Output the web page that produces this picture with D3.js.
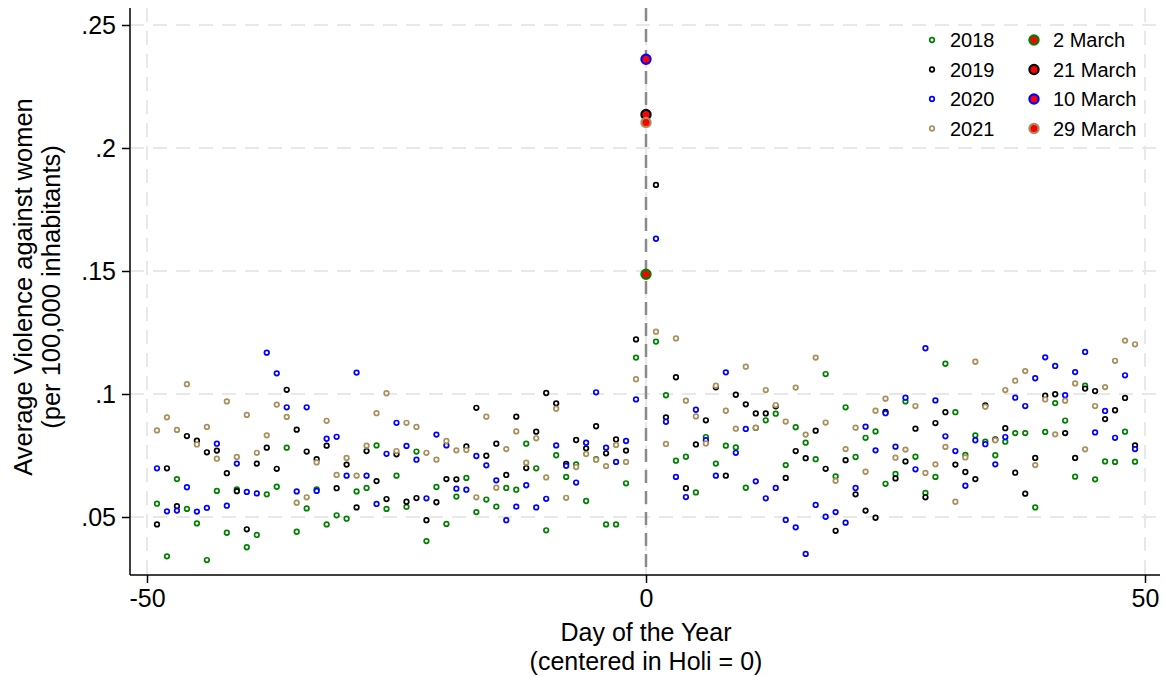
<!DOCTYPE html>
<html>
<head>
<meta charset="utf-8">
<script src="https://cdn.jsdelivr.net/npm/d3@7"></script>
<style>
  body { margin: 0; background: #fff; }
  text { font-family: "Liberation Sans", Arial, sans-serif; fill: #000; }
</style>
</head>
<body>
<script>
// Days relative to Holi (day 0 is drawn as the big marker)
var days = d3.range(-49, 50);

// Series values, day -49 .. 49
var v2018 = [
  0.0554, 0.0340, 0.0654, 0.0533, 0.0474, 0.0325, 0.0606, 0.0436, 0.0612, 0.0377, // -49..-40
  0.0427, 0.0592, 0.0623, 0.0782, 0.0440, 0.0535, 0.0612, 0.0470, 0.0507, 0.0493, // -39..-30
  0.0604, 0.0618, 0.0791, 0.0533, 0.0668, 0.0541, 0.0766, 0.0402, 0.0622, 0.0472, // -29..-20
  0.0583, 0.0659, 0.0520, 0.0571, 0.0542, 0.0618, 0.0611, 0.0798, 0.0698, 0.0446, // -19..-10
  0.0751, 0.0663, 0.0714, 0.0565, 0.0735, 0.0470, 0.0470, 0.0637, 0.1148,         // -9..-1
  0.1487,                                                                         // 0
  0.1213, 0.0995, 0.0729, 0.0745, 0.0600, 0.0825, 0.0717, 0.0790, 0.0783, 0.0619, // 1..10
  0.0862, 0.0893, 0.0920, 0.0711, 0.0865, 0.0802, 0.0735, 0.1081, 0.0665, 0.0946, // 11..20
  0.0744, 0.0822, 0.0848, 0.0635, 0.0675, 0.0970, 0.0745, 0.0598, 0.0663, 0.1123, // 21..30
  0.0926, 0.0752, 0.0832, 0.0806, 0.0751, 0.0806, 0.0841, 0.0841, 0.0539, 0.0846, // 31..40
  0.0963, 0.0892, 0.0664, 0.1034, 0.0653, 0.0726, 0.0724, 0.0847, 0.0725          // 41..49
];
var v2019 = [
  0.0470, 0.0698, 0.0544, 0.0829, 0.0810, 0.0763, 0.0770, 0.0678, 0.0605, 0.0450,
  0.0717, 0.0782, 0.0696, 0.1017, 0.0855, 0.0766, 0.0735, 0.0790, 0.0617, 0.0713,
  0.0539, 0.0768, 0.0646, 0.0573, 0.0755, 0.0562, 0.0577, 0.0487, 0.0560, 0.0654,
  0.0653, 0.0787, 0.0944, 0.0749, 0.0798, 0.0671, 0.0908, 0.0699, 0.0847, 0.1004,
  0.0962, 0.0716, 0.0813, 0.0779, 0.0869, 0.0759, 0.0815, 0.0770, 0.1222,
  0.2136,
  0.1850, 0.0905, 0.1068, 0.0617, 0.0795, 0.0893, 0.1027, 0.0668, 0.0997, 0.0958,
  0.0921, 0.0921, 0.0950, 0.0659, 0.0768, 0.0739, 0.0851, 0.0696, 0.0444, 0.0731,
  0.0592, 0.0526, 0.0497, 0.0927, 0.0657, 0.0726, 0.0859, 0.0580, 0.0882, 0.0926,
  0.0713, 0.0683, 0.0654, 0.0954, 0.0815, 0.0861, 0.0680, 0.0595, 0.0740, 0.0993,
  0.0999, 0.0841, 0.0740, 0.1022, 0.1012, 0.0898, 0.0934, 0.0984, 0.0791
];
var v2020 = [
  0.0698, 0.0523, 0.0526, 0.0621, 0.0522, 0.0537, 0.0798, 0.0546, 0.0717, 0.0602,
  0.0596, 0.1168, 0.1084, 0.0946, 0.0604, 0.0946, 0.0606, 0.0818, 0.0826, 0.0668,
  0.1087, 0.0668, 0.0553, 0.0757, 0.0883, 0.0789, 0.0733, 0.0576, 0.0835, 0.0791,
  0.0615, 0.0611, 0.0748, 0.0710, 0.0649, 0.0487, 0.0542, 0.0629, 0.0539, 0.0574,
  0.0791, 0.0708, 0.0640, 0.0802, 0.1007, 0.0782, 0.0724, 0.0809, 0.0978,
  0.2361,
  0.1631, 0.0887, 0.0663, 0.0581, 0.0936, 0.0812, 0.0668, 0.1088, 0.0761, 0.0858,
  0.0645, 0.0576, 0.0618, 0.0488, 0.0458, 0.0350, 0.0549, 0.0501, 0.0520, 0.0477,
  0.0618, 0.0867, 0.0771, 0.0922, 0.0786, 0.0985, 0.0694, 0.1186, 0.0974, 0.0828,
  0.0768, 0.0627, 0.0812, 0.0796, 0.0714, 0.0825, 0.0985, 0.0951, 0.1064, 0.1149,
  0.1114, 0.0995, 0.1089, 0.1171, 0.0844, 0.0931, 0.0822, 0.1076, 0.0776
];
var v2021 = [
  0.0852, 0.0905, 0.0854, 0.1040, 0.0795, 0.0866, 0.0737, 0.0970, 0.0744, 0.0915,
  0.0761, 0.0832, 0.0957, 0.0907, 0.0558, 0.0580, 0.0722, 0.0891, 0.0671, 0.0740,
  0.0668, 0.0790, 0.0922, 0.1003, 0.0768, 0.0883, 0.0866, 0.0761, 0.0733, 0.0809,
  0.0771, 0.0772, 0.0580, 0.0908, 0.0619, 0.0776, 0.0848, 0.0721, 0.0820, 0.0661,
  0.0940, 0.0578, 0.0703, 0.0756, 0.0733, 0.0707, 0.0793, 0.0724, 0.1060,
  0.2104,
  0.1253, 0.0797, 0.1226, 0.0973, 0.0909, 0.0799, 0.1034, 0.0932, 0.0859, 0.1111,
  0.0863, 0.1016, 0.0955, 0.0888, 0.1026, 0.0835, 0.1148, 0.0884, 0.0647, 0.0776,
  0.0863, 0.0684, 0.0932, 0.0981, 0.0741, 0.0774, 0.0951, 0.0679, 0.0714, 0.0785,
  0.0562, 0.0742, 0.1131, 0.0948, 0.0812, 0.1016, 0.1054, 0.1093, 0.0711, 0.0978,
  0.0836, 0.0973, 0.1043, 0.0775, 0.0951, 0.1028, 0.1135, 0.1217, 0.1202
];

var years = ["2018", "2019", "2020", "2021"];
var holiDates = ["2 March", "21 March", "10 March", "29 March"];
var yearValues = [v2018, v2019, v2020, v2021];
var colors = ["#008000", "#000000", "#0000ff", "#a88f5c"];

var xTicks = [-50, 0, 50];
var xTickLabels = ["-50", "0", "50"];
var yTicks = [0.05, 0.1, 0.15, 0.2, 0.25];
var yTickLabels = [".05", ".1", ".15", ".2", ".25"];

var svgWidth = 1165;
var svgHeight = 677;

var plotLeft = 130, plotRight = 1160, plotTop = 8, plotBottom = 575;

var svg = d3.select("body")
  .append("svg")
  .attr("width", svgWidth)
  .attr("height", svgHeight);

var x = d3.scaleLinear().domain([-50, 50]).range([147, 1145]);
var y = d3.scaleLinear().domain([0.05, 0.25]).range([517, 25]);

// gridlines
var grid = svg.append("g");
grid.selectAll(".hgrid")
  .data(yTicks)
  .enter()
  .append("line")
  .attr("x1", plotLeft).attr("x2", plotRight)
  .attr("y1", d => y(d)).attr("y2", d => y(d))
  .attr("stroke", "#e8e8e8")
  .attr("stroke-width", 2)
  .attr("stroke-dasharray", "14,9");
grid.selectAll(".vgrid")
  .data(xTicks)
  .enter()
  .append("line")
  .attr("x1", d => x(d)).attr("x2", d => x(d))
  .attr("y1", plotTop).attr("y2", plotBottom)
  .attr("stroke", "#e8e8e8")
  .attr("stroke-width", 2)
  .attr("stroke-dasharray", "14,9");

// reference line at Holi
svg.append("line")
  .attr("x1", x(0)).attr("x2", x(0))
  .attr("y1", plotTop).attr("y2", plotBottom)
  .attr("stroke", "#8a8a8a")
  .attr("stroke-width", 2.5)
  .attr("stroke-dasharray", "13,8");

// axes
var leftAxis = d3.axisLeft(y).tickValues(yTicks)
  .tickFormat((d, i) => yTickLabels[i]).tickSize(8).tickPadding(6);
var bottomAxis = d3.axisBottom(x).tickValues(xTicks)
  .tickFormat((d, i) => xTickLabels[i]).tickSize(8).tickPadding(6);

var gy = svg.append("g")
  .attr("transform", `translate(${plotLeft},0)`)
  .call(leftAxis);
gy.select(".domain").remove();
svg.append("line")
  .attr("x1", plotLeft).attr("x2", plotLeft)
  .attr("y1", plotTop).attr("y2", plotBottom)
  .attr("stroke", "#000").attr("stroke-width", 1.5);

var gx = svg.append("g")
  .attr("transform", `translate(0,${plotBottom})`)
  .call(bottomAxis);
gx.select(".domain").remove();
svg.append("line")
  .attr("x1", plotLeft).attr("x2", plotRight)
  .attr("y1", plotBottom).attr("y2", plotBottom)
  .attr("stroke", "#000").attr("stroke-width", 1.5);

svg.selectAll(".tick line").attr("stroke", "#000").attr("stroke-width", 1.5);
gy.selectAll(".tick text").style("font-size", "25px").style("font-family", "Liberation Sans, Arial, sans-serif");
gx.selectAll(".tick text").style("font-size", "25px").style("font-family", "Liberation Sans, Arial, sans-serif");

// axis titles
svg.append("text")
  .attr("x", 646).attr("y", 641)
  .attr("text-anchor", "middle")
  .style("font-size", "25px")
  .text("Day of the Year");
svg.append("text")
  .attr("x", 646).attr("y", 670)
  .attr("text-anchor", "middle")
  .style("font-size", "25px")
  .text("(centered in Holi = 0)");

svg.append("text")
  .attr("transform", "translate(32,287) rotate(-90)")
  .attr("text-anchor", "middle")
  .style("font-size", "25.5px")
  .text("Average Violence against women");
svg.append("text")
  .attr("transform", "translate(60,287) rotate(-90)")
  .attr("text-anchor", "middle")
  .style("font-size", "25.5px")
  .text("(per 100,000 inhabitants)");

// points
var points = svg.append("g");
yearValues.forEach(function(vals, k) {
  var rows = days.map((d, i) => ({ day: d, value: vals[i] })).filter(r => r.day !== 0);
  points.selectAll(".pt" + k)
    .data(rows)
    .enter()
    .append("circle")
    .attr("class", "pt" + k)
    .attr("cx", d => x(d.day))
    .attr("cy", d => y(d.value))
    .attr("r", 2.3)
    .attr("fill", "#fff")
    .attr("stroke", colors[k])
    .attr("stroke-width", 1.7);
});

// Holi day markers
yearValues.forEach(function(vals, k) {
  var i0 = days.indexOf(0);
  svg.append("circle")
    .attr("cx", x(0))
    .attr("cy", y(vals[i0]))
    .attr("r", 4.6)
    .attr("fill", "#ff0000")
    .attr("stroke", colors[k])
    .attr("stroke-width", 2.2);
});

// legend
var legend = svg.append("g");
years.forEach(function(yr, k) {
  var ly = 40 + k * 29.5;
  legend.append("circle")
    .attr("cx", 932).attr("cy", ly)
    .attr("r", 2.3)
    .attr("fill", "#fff")
    .attr("stroke", colors[k])
    .attr("stroke-width", 1.7);
  legend.append("text")
    .attr("x", 950).attr("y", ly + 7)
    .style("font-size", "20px")
    .text(yr);
  legend.append("circle")
    .attr("cx", 1034).attr("cy", ly)
    .attr("r", 4.6)
    .attr("fill", "#ff0000")
    .attr("stroke", colors[k])
    .attr("stroke-width", 2.2);
  legend.append("text")
    .attr("x", 1053).attr("y", ly + 7)
    .style("font-size", "20px")
    .text(holiDates[k]);
});
</script>
</body>
</html>
